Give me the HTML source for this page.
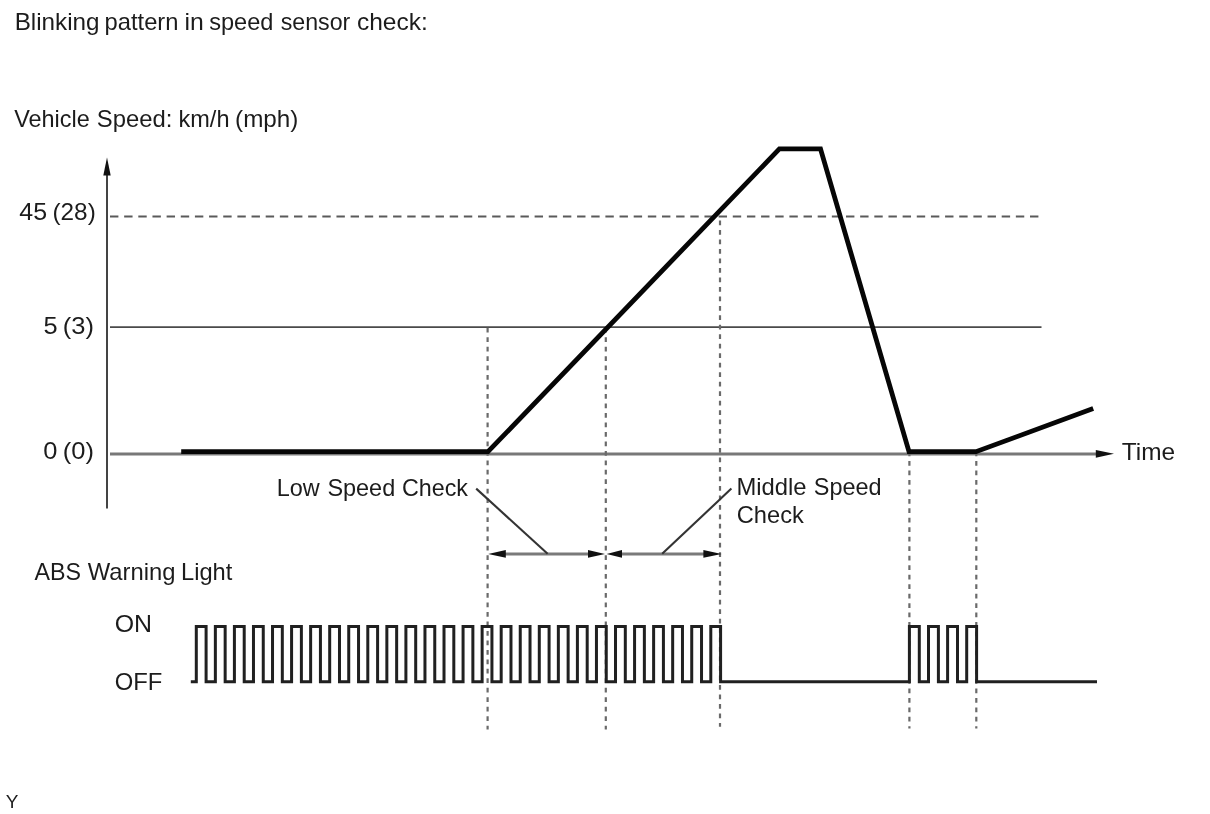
<!DOCTYPE html>
<html lang="en">
<head>
<meta charset="utf-8">
<title>Blinking pattern in speed sensor check</title>
<style>
html,body{margin:0;padding:0;background:#fff;}
body{width:1210px;height:814px;overflow:hidden;position:relative;font-family:"Liberation Sans",Arial,sans-serif;color:#222;}
svg{position:absolute;left:0;top:0;display:block;}
svg text{font-family:"Liberation Sans",Arial,sans-serif;font-size:24px;fill:#1c1c1c;}
.thin{stroke:#4a4a4a;stroke-width:1.8;fill:none;}
.yaxis{stroke:#444;stroke-width:2;fill:none;}
.dim{stroke:#7a7a7a;stroke-width:3;fill:none;}
.lead{stroke:#333;stroke-width:2.1;fill:none;}
.axis{stroke:#787878;stroke-width:3;fill:none;}
.dash{stroke:#5a5a5a;stroke-width:2;fill:none;stroke-dasharray:8.4 5.754;}
.dot{stroke:#6a6a6a;stroke-width:2.2;fill:none;stroke-dasharray:4.75 4.727;}
.thick{stroke:#060606;stroke-width:4.8;fill:none;stroke-linejoin:miter;stroke-linecap:butt;}
.wave{stroke:#202020;stroke-width:3;fill:none;stroke-linejoin:miter;}
.ah{fill:#111;stroke:none;}
</style>
</head>
<body>
<svg width="1210" height="814" viewBox="0 0 1210 814">
  <rect x="0" y="0" width="1210" height="814" fill="#ffffff"/>

  <!-- headings and labels -->
  <text y="29.6"><tspan x="14.68" textLength="84.88" lengthAdjust="spacingAndGlyphs">Blinking</tspan> <tspan x="104.52" textLength="73.94" lengthAdjust="spacingAndGlyphs">pattern</tspan> <tspan x="184.45" textLength="19.29" lengthAdjust="spacingAndGlyphs">in</tspan> <tspan x="209.26" textLength="64.15" lengthAdjust="spacingAndGlyphs">speed</tspan> <tspan x="280.68" textLength="69.61" lengthAdjust="spacingAndGlyphs">sensor</tspan> <tspan x="356.98" textLength="70.89" lengthAdjust="spacingAndGlyphs">check:</tspan></text>
  <text y="127.4"><tspan x="14.16" textLength="75.56" lengthAdjust="spacingAndGlyphs">Vehicle</tspan> <tspan x="96.76" textLength="75.55" lengthAdjust="spacingAndGlyphs">Speed:</tspan> <tspan x="178.53" textLength="50.95" lengthAdjust="spacingAndGlyphs">km/h</tspan> <tspan x="235.08" textLength="63.35" lengthAdjust="spacingAndGlyphs">(mph)</tspan></text>
  <text y="219.7"><tspan x="19.38" textLength="27.81" lengthAdjust="spacingAndGlyphs">45</tspan> <tspan x="52.48" textLength="43.28" lengthAdjust="spacingAndGlyphs">(28)</tspan></text>
  <text y="333.5"><tspan x="43.64" textLength="14.13" lengthAdjust="spacingAndGlyphs">5</tspan> <tspan x="62.81" textLength="31.19" lengthAdjust="spacingAndGlyphs">(3)</tspan></text>
  <text y="458.5"><tspan x="43.34" textLength="14.17" lengthAdjust="spacingAndGlyphs">0</tspan> <tspan x="62.81" textLength="31.19" lengthAdjust="spacingAndGlyphs">(0)</tspan></text>
  <text y="459.6"><tspan x="1121.79" textLength="53.38" lengthAdjust="spacingAndGlyphs">Time</tspan></text>
  <text y="496"><tspan x="276.65" textLength="42.98" lengthAdjust="spacingAndGlyphs">Low</tspan> <tspan x="327.38" textLength="67.84" lengthAdjust="spacingAndGlyphs">Speed</tspan> <tspan x="401.99" textLength="66.04" lengthAdjust="spacingAndGlyphs">Check</tspan></text>
  <text y="495"><tspan x="736.42" textLength="70.13" lengthAdjust="spacingAndGlyphs">Middle</tspan> <tspan x="813.78" textLength="67.84" lengthAdjust="spacingAndGlyphs">Speed</tspan></text>
  <text y="523"><tspan x="736.77" textLength="67.06" lengthAdjust="spacingAndGlyphs">Check</tspan></text>
  <text y="580"><tspan x="34.40" textLength="46.60" lengthAdjust="spacingAndGlyphs">ABS</tspan> <tspan x="87.75" textLength="87.72" lengthAdjust="spacingAndGlyphs">Warning</tspan> <tspan x="181.03" textLength="51.26" lengthAdjust="spacingAndGlyphs">Light</tspan></text>
  <text y="631.6"><tspan x="114.70" textLength="37.37" lengthAdjust="spacingAndGlyphs">ON</tspan></text>
  <text y="689.6"><tspan x="114.76" textLength="47.63" lengthAdjust="spacingAndGlyphs">OFF</tspan></text>
  <text x="5.7" y="807.6" style="font-size:19px">Y</text>

  <!-- axes -->
  <line class="yaxis" x1="107" y1="172" x2="107" y2="508.5"/>
  <polygon class="ah" points="107,157.6 110.7,175.4 103.3,175.4"/>
  <line class="axis" x1="110" y1="453.9" x2="1100" y2="453.9"/>
  <polygon class="ah" points="1114,453.8 1095.8,449.9 1095.8,457.7"/>

  <!-- reference levels -->
  <line class="dash" x1="110" y1="216.5" x2="1038.6" y2="216.5"/>
  <line class="thin" x1="110" y1="327.1" x2="1041.5" y2="327.1"/>

  <!-- vertical dotted guides -->
  <line class="dot" x1="487.6" y1="327.7" x2="487.6" y2="729.4"/>
  <line class="dot" x1="605.8" y1="327.7" x2="605.8" y2="729.4"/>
  <line class="dot" x1="720" y1="220.6" x2="720" y2="726.8"/>
  <line class="dot" x1="909.4" y1="451.5" x2="909.4" y2="728.5"/>
  <line class="dot" x1="976.3" y1="451.5" x2="976.3" y2="728.5"/>

  <!-- vehicle speed curve -->
  <polyline class="thick" points="181.2,451.7 488,451.7 779.4,148.9 820.5,148.9 909,451.7 976,451.7 1093.2,408.5"/>

  <!-- dimension arrows -->
  <line class="dim" x1="500" y1="553.9" x2="593" y2="553.9"/>
  <polygon class="ah" points="488.2,553.9 505.8,550 505.8,557.8"/>
  <polygon class="ah" points="605,553.9 588,550 588,557.8"/>
  <line class="dim" x1="618" y1="553.9" x2="708" y2="553.9"/>
  <polygon class="ah" points="606.6,553.9 622,550 622,557.8"/>
  <polygon class="ah" points="721.6,553.9 703.4,550 703.4,557.8"/>

  <!-- leader lines -->
  <line class="lead" x1="476.2" y1="488.6" x2="547.6" y2="553.8"/>
  <line class="lead" x1="731.4" y1="488.6" x2="662.2" y2="553.8"/>

  <!-- ABS warning light waveform -->
  <path class="wave" d="M190.8 681.7H196.30V626.4H206.10V681.7H215.36V626.4H225.16V681.7H234.41V626.4H244.21V681.7H253.47V626.4H263.26V681.7H272.52V626.4H282.32V681.7H291.58V626.4H301.38V681.7H310.63V626.4H320.43V681.7H329.69V626.4H339.49V681.7H348.74V626.4H358.54V681.7H367.80V626.4H377.60V681.7H386.85V626.4H396.65V681.7H405.90V626.4H415.70V681.7H424.96V626.4H434.76V681.7H444.01V626.4H453.81V681.7H463.07V626.4H472.87V681.7H482.12V626.4H491.93V681.7H501.18V626.4H510.98V681.7H520.24V626.4H530.03V681.7H539.29V626.4H549.09V681.7H558.35V626.4H568.14V681.7H577.40V626.4H587.20V681.7H596.45V626.4H606.25V681.7H615.51V626.4H625.31V681.7H634.57V626.4H644.37V681.7H653.62V626.4H663.42V681.7H672.67V626.4H682.47V681.7H691.73V626.4H701.53V681.7H710.79V626.4H720.59V681.7H909.40V626.4H919.30V681.7H928.50V626.4H938.40V681.7H947.60V626.4H957.50V681.7H966.70V626.4H976.60V681.7H1097"/>
</svg>
</body>
</html>
